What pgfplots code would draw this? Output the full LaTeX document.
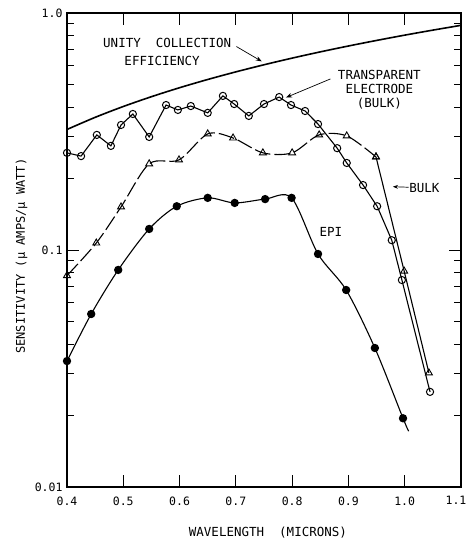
\documentclass[border=0pt]{standalone}
\usepackage{fontspec}
\setmainfont{DejaVu Sans Mono}
\usepackage{pgfplots}
\pgfplotsset{compat=1.18}
\usetikzlibrary{arrows.meta}
\begin{document}
\begin{tikzpicture}[x=1pt,y=1pt]
\useasboundingbox (-67,-55) rectangle (399,487);
\begin{axis}[
  at={(0,0)}, anchor=south west,
  scale only axis, width=394pt, height=474pt,
  xmin=0.4, xmax=1.1, ymode=log, ymin=0.01, ymax=1,
  xtick={0.4,0.5,0.6,0.7,0.8,0.9,1.0,1.1},
  xticklabels={0.4,0.5,0.6,0.7,0.8,0.9,1.0,{\hspace*{-10pt}1.1}},
  ytick={0.01,0.1,1}, yticklabels={0.01,0.1,1.0},
  tick align=inside, major tick length=12pt, minor tick length=7pt,
  tick style={black, line width=1pt},
  axis line style={line width=1.1pt},
  xtick pos=both, ytick pos=both,
  /pgf/number format/assume math mode=true,
  tick label style={font=\fontsize{11.5}{12}\selectfont},
  xticklabel style={yshift=-6pt},
  yticklabel style={xshift=-1pt},
  xlabel={WAVELENGTH\ \ (MICRONS)},
  ylabel={SENSITIVITY (\textmu\ AMPS/\textmu\ WATT)},
  xlabel style={font=\fontsize{12.5}{14}\selectfont, at={(0.51,0)}, yshift=-36pt},
  ylabel style={font=\fontsize{12}{14}\selectfont, at={(0,0.487)}, yshift=36pt},
  clip=false,
]
% unity collection efficiency
\addplot[black, line width=1.6pt, smooth] coordinates {
(0.40,0.3226)(0.45,0.3629)(0.50,0.4032)(0.55,0.4435)(0.60,0.4839)(0.65,0.5242)
(0.70,0.5645)(0.75,0.6048)(0.80,0.6452)(0.85,0.6855)(0.90,0.7258)(0.95,0.7661)
(1.00,0.8065)(1.05,0.8468)(1.10,0.8871)};
% transparent electrode (bulk)
\addplot[black, line width=1.1pt, mark=o, mark size=3.6pt, mark options={fill=white, solid, line width=1pt}] coordinates {
(0.400,0.257)(0.425,0.249)(0.453,0.306)(0.478,0.275)(0.496,0.337)(0.517,0.375)
(0.546,0.300)(0.576,0.409)(0.597,0.390)(0.620,0.405)(0.650,0.379)(0.677,0.447)
(0.697,0.413)(0.723,0.368)(0.750,0.413)(0.777,0.442)(0.798,0.409)(0.823,0.386)
(0.846,0.340)(0.880,0.269)(0.897,0.233)(0.926,0.188)(0.951,0.153)(0.977,0.110)
(0.995,0.0747)(1.045,0.0252)};
% bulk
\addplot[black, line width=1.1pt, smooth, dash pattern=on 16pt off 4pt, mark=triangle, mark size=4pt, mark options={fill=white, solid, line width=0.9pt}] coordinates {
(0.400,0.078)(0.452,0.107)(0.496,0.152)(0.546,0.231)(0.599,0.240)(0.650,0.309)
(0.695,0.297)(0.748,0.257)(0.800,0.257)(0.848,0.306)(0.897,0.303)(0.949,0.247)};
\addplot[black, line width=1.1pt, smooth, mark=triangle, mark size=4pt, mark options={fill=white, solid, line width=0.9pt}] coordinates {
(0.949,0.247)(0.999,0.0815)(1.043,0.0303)};
% epi
\addplot[black, line width=1.1pt, smooth, mark=*, mark size=3.6pt, mark indices={1,...,13}] coordinates {
(0.400,0.034)(0.443,0.0537)(0.491,0.0824)(0.546,0.1227)(0.595,0.153)(0.650,0.166)
(0.698,0.158)(0.752,0.164)(0.799,0.166)(0.846,0.0962)(0.896,0.0678)(0.947,0.0386)
(0.997,0.0195)(1.007,0.0172)};
% annotations
\node[font=\fontsize{12.5}{14}\selectfont] at (axis cs:0.578,0.747) {UNITY\ \ COLLECTION};
\node[font=\fontsize{12.5}{14}\selectfont] at (axis cs:0.569,0.627) {EFFICIENCY};
\draw[-{Stealth[length=6pt]}, line width=0.7pt] (axis cs:0.701,0.722) -- (axis cs:0.746,0.625);
\node[font=\fontsize{12.5}{14}\selectfont, align=center, inner sep=0pt] at (axis cs:0.955,0.475) {TRANSPARENT\\ELECTRODE\\(BULK)};
\draw[-{Stealth[length=6pt]}, line width=0.7pt] (axis cs:0.868,0.527) -- (axis cs:0.789,0.440);
\node[font=\fontsize{12.5}{14}\selectfont, anchor=west, inner sep=0pt] at (axis cs:1.008,0.183) {BULK};
\draw[-{Stealth[length=5pt]}, line width=0.7pt] (axis cs:1.007,0.184) -- (axis cs:0.979,0.185);
\node[font=\fontsize{12.5}{14}\selectfont] at (axis cs:0.869,0.119) {EPI};
\end{axis}
\end{tikzpicture}
\end{document}
